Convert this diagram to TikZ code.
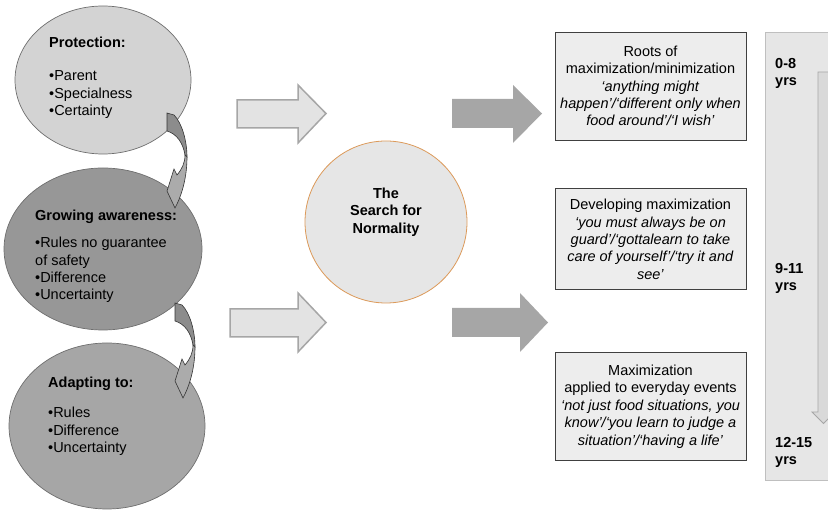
\documentclass[tikz,border=0pt]{standalone}
\usepackage{fontspec}
\setmainfont{Liberation Sans}
\usepackage{xcolor}
\usepackage{tikz}
\usetikzlibrary{shapes.geometric,positioning}

\definecolor{protfill}{HTML}{D3D3D3}
\definecolor{awarefill}{HTML}{979797}
\definecolor{adaptfill}{HTML}{A6A6A6}
\definecolor{stageedge}{HTML}{6E6E6E}
\definecolor{normfill}{HTML}{E6E6E6}
\definecolor{normedge}{HTML}{DC9A5A}
\definecolor{boxfill}{HTML}{EDEDED}
\definecolor{boxedge}{HTML}{404040}
\definecolor{arrowlight}{HTML}{E3E3E3}
\definecolor{arrowedge}{HTML}{A6A6A6}
\definecolor{arrowdark}{HTML}{A6A6A6}
\definecolor{ribbondark}{HTML}{8C8C8C}
\definecolor{ribbonlight}{HTML}{ABABAB}
\definecolor{barfill}{HTML}{E6E6E6}
\definecolor{baredge}{HTML}{BFBFBF}
\definecolor{barshaft}{HTML}{D9D9D9}

\tikzset{turnarrow/.pic={
    \filldraw[fill=ribbondark, draw=black!80, line width=0.6pt] (0,0) -- (7,2) .. controls (15,10) and (20,28) .. (20,44) -- (18,42) .. controls (16,30) and (10,21) .. (0,18) -- cycle;
    \filldraw[fill=ribbonlight, draw=black!80, line width=0.6pt] (20,44) .. controls (20,62) and (16,80) .. (8,95) -- (0,78) -- (7,56) -- (10,62) .. controls (15,56) and (18,50) .. (18,42) -- cycle;
}}

\begin{document}
\begin{tikzpicture}[x=1pt, y=-1pt, node distance=48pt, font=\fontsize{14.5}{17.4}\selectfont]
    % Define styles
    \tikzstyle{stage} = [ellipse, draw=stageedge, line width=0.7pt, inner sep=0pt]
    \tikzstyle{caption} = [anchor=north west, align=left, inner sep=0pt]
    \tikzstyle{quotebox} = [rectangle, draw=boxedge, fill=boxfill, line width=0.8pt, minimum width=191pt, align=center, inner sep=0pt]
    \tikzstyle{normal} = [circle, draw=normedge, fill=normfill, line width=0.8pt, minimum size=162pt]
    \tikzstyle{normtext} = [align=center, font=\fontsize{14.5}{17.4}\selectfont\bfseries, yshift=10pt]
    \tikzstyle{hollowarrow} = [draw=arrowedge, fill=arrowlight, line width=1.5pt]
    \tikzstyle{solidarrow} = [fill=arrowdark]
    \tikzstyle{age} = [anchor=north west, align=left, inner sep=0pt, font=\fontsize{14.5}{17.4}\selectfont\bfseries]

    \useasboundingbox (0,0) rectangle (828,510);
    \clip (0,0) rectangle (828,510);

    % Stages
    \node [stage, fill=protfill, minimum width=176pt, minimum height=148pt] (prot) at (103,80) {};
    \node [stage, fill=awarefill, minimum width=198pt, minimum height=162pt] (aware) at (103,249) {};
    \node [stage, fill=adaptfill, minimum width=196pt, minimum height=166pt] (adapt) at (107,426) {};
    \node [caption] (prottext) at (49,37) {\textbf{Protection:}\\[15.6pt]•Parent\\•Specialness\\•Certainty};
    \node [caption] (awaretext) at (35,210) {\textbf{Growing awareness:}\\[9.6pt]•Rules no guarantee\\of safety\\•Difference\\•Uncertainty};
    \node [caption] (adapttext) at (48,377) {\textbf{Adapting to:}\\[12.6pt]•Rules\\•Difference\\•Uncertainty};
    \pic at (167,113) {turnarrow};
    \pic at (175,303) {turnarrow};

    % Centre
    \node [normal, label={[normtext]center:The\\Search for\\Normality}] (search) at (386,222) {};

    % Arrows
    \draw [hollowarrow] (237,100) -- (298,100) -- (298,85) -- (326,113.5) -- (298,143) -- (298,128) -- (237,128) -- cycle;
    \draw [hollowarrow] (230,309) -- (298,309) -- (298,293) -- (326,322.5) -- (298,352) -- (298,337) -- (230,337) -- cycle;
    \fill [solidarrow] (452,99) -- (513,99) -- (513,85) -- (542,113.5) -- (513,143) -- (513,128) -- (452,128) -- cycle;
    \fill [solidarrow] (452,308) -- (520,308) -- (520,293) -- (548,322.5) -- (520,352) -- (520,337) -- (452,337) -- cycle;

    % Quotes
    \node [quotebox, minimum height=108pt] (roots) at (650.5,86) {Roots of\\maximization/minimization\\\textit{‘anything might}\\\textit{happen’/‘different only when}\\\textit{food around’/‘I wish’}};
    \node [quotebox, minimum height=101pt, below=48pt of roots] (develop) {Developing maximization\\\textit{‘you must always be on}\\\textit{guard’/‘gottalearn to take}\\\textit{care of yourself’/‘try it and}\\\textit{see’}};
    \node [quotebox, minimum height=108pt, below=62pt of develop] (everyday) {Maximization\\applied to everyday events\\\textit{‘not just food situations, you}\\\textit{know’/‘you learn to judge a}\\\textit{situation’/‘having a life’}};

    % Time line
    \node [rectangle, draw=baredge, fill=barfill, line width=0.8pt, minimum width=75pt, minimum height=448pt] (years) at (802.5,256) {};
    \filldraw [fill=barshaft, draw=arrowedge, line width=0.8pt] (818,72) -- (818,412) -- (812,412) -- (823.5,423.5) -- (835,412) -- (829,412) -- (829,72) -- cycle;
    \node [age] (young) at (775,58) {0-8\\yrs};
    \node [age] (middle) at (775,263) {9-11\\yrs};
    \node [age] (older) at (775,437) {12-15\\yrs};
\end{tikzpicture}
\end{document}
